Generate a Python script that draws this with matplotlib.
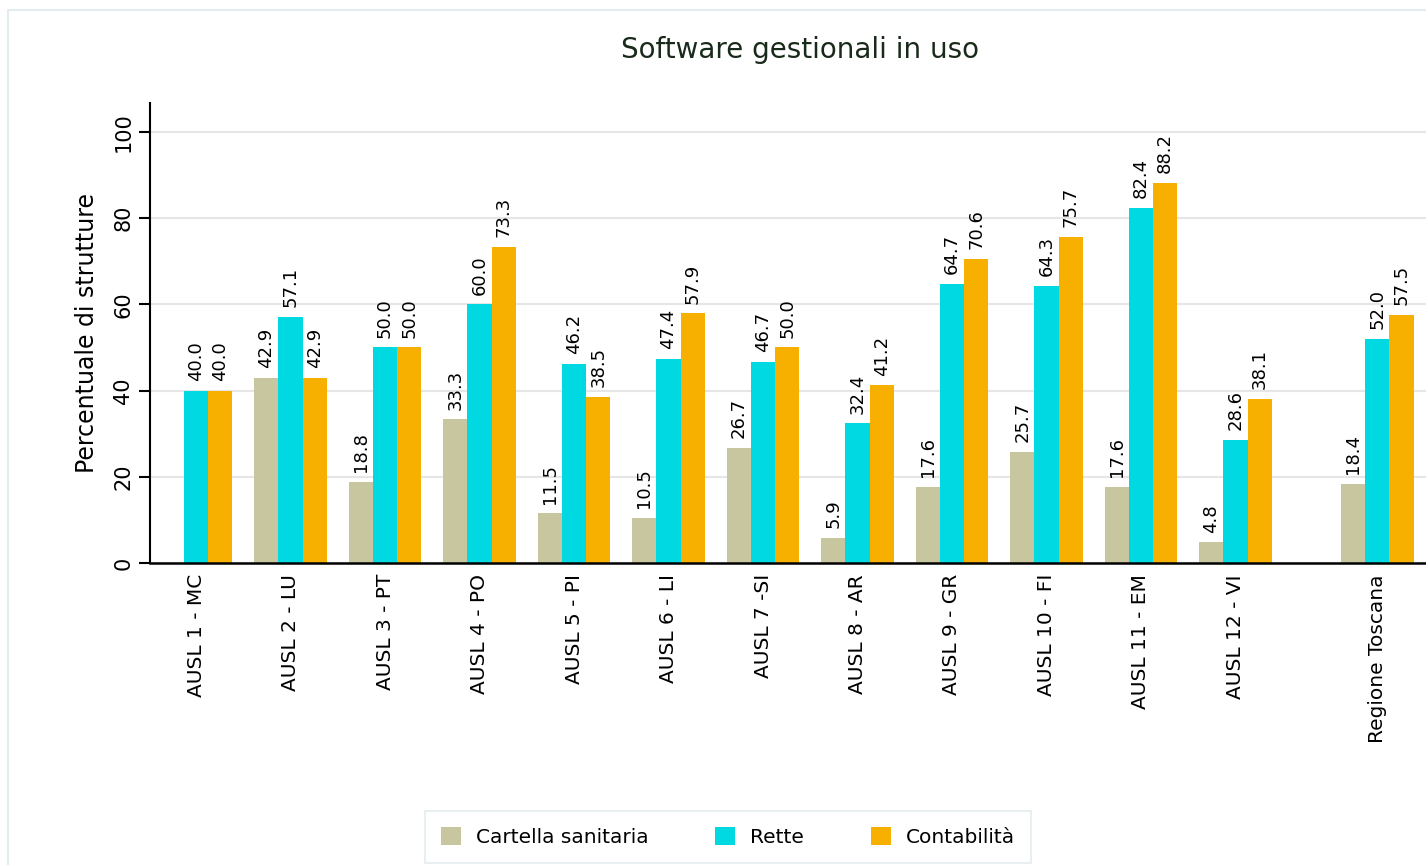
import numpy as np
import matplotlib.pyplot as plt
from matplotlib.patches import Rectangle

categories = ['AUSL 1 - MC', 'AUSL 2 - LU', 'AUSL 3 - PT', 'AUSL 4 - PO', 'AUSL 5 - PI',
              'AUSL 6 - LI', 'AUSL 7 -SI', 'AUSL 8 - AR', 'AUSL 9 - GR', 'AUSL 10 - FI',
              'AUSL 11 - EM', 'AUSL 12 - VI', 'Regione Toscana']
cartella = [0.0, 42.9, 18.8, 33.3, 11.5, 10.5, 26.7, 5.9, 17.6, 25.7, 17.6, 4.8, 18.4]
rette = [40.0, 57.1, 50.0, 60.0, 46.2, 47.4, 46.7, 32.4, 64.7, 64.3, 82.4, 28.6, 52.0]
contabilita = [40.0, 42.9, 50.0, 73.3, 38.5, 57.9, 50.0, 41.2, 70.6, 75.7, 88.2, 38.1, 57.5]
series_names = ['Cartella sanitaria', 'Rette', 'Contabilità']
colors = ['#c8c69e', '#00d9e1', '#f8b000']

plt.rcParams['font.family'] = ['DejaVu Sans']

fig = plt.figure(figsize=(14.26, 8.65), dpi=100)
# light outer frame like the original export
fig.patches.append(Rectangle((8 / 1426, -0.05), 1.1, 1 - 10 / 865 + 0.05,
                             transform=fig.transFigure, fill=False,
                             edgecolor='#e3ecee', linewidth=1.5))

ax = fig.add_axes([150 / 1426, 302 / 865, 1300 / 1426, 460 / 865])

# groups 0..11, then a gap before the regional total
x = np.arange(len(categories), dtype=float)
x[-1] += 0.5
w = 0.256

for i, (vals, name, c) in enumerate(zip([cartella, rette, contabilita], series_names, colors)):
    pos = x + (i - 1) * w
    ax.bar(pos, vals, width=w, color=c, label=name, zorder=2)
    for p, v in zip(pos, vals):
        if v > 0:
            ax.annotate(f'{v:.1f}', (p, v), xytext=(0, 7), textcoords='offset points',
                        rotation=90, ha='center', va='bottom', fontsize=13)

ax.set_ylim(0, 106.7)
ax.set_xlim(-0.487, 13.27)
ax.set_yticks(range(0, 101, 20))
ax.tick_params(axis='y', labelrotation=90, labelsize=15, length=8, width=1.5, pad=4)
for lab in ax.get_yticklabels():
    lab.set_va('center')
ax.set_xticks(x)
ax.set_xticklabels(categories, rotation=90, fontsize=14.5)
ax.tick_params(axis='x', length=0, pad=8)
ax.grid(axis='y', color='#e6e6e6', linewidth=1.5, zorder=0)
ax.set_axisbelow(True)

for s in ['top', 'right']:
    ax.spines[s].set_visible(False)
ax.spines['left'].set_linewidth(1.5)
ax.spines['bottom'].set_linewidth(1.8)

ax.set_ylabel('Percentuale di strutture', fontsize=17, labelpad=10)
fig.text(800 / 1426, 1 - 50 / 865, 'Software gestionali in uso', fontsize=20,
         ha='center', va='center', color='#1a2a1a')

leg = fig.legend(loc='center', bbox_to_anchor=(728 / 1426, 1 - 837 / 865), ncol=3,
                 fontsize=14.5, frameon=True, fancybox=False, handlelength=1.0,
                 handleheight=1.0, handletextpad=0.75, columnspacing=3.3, borderpad=0.8)
leg.get_frame().set_edgecolor('#e3ecee')
leg.get_frame().set_linewidth(1.5)

fig.savefig('out.png', dpi=100)
